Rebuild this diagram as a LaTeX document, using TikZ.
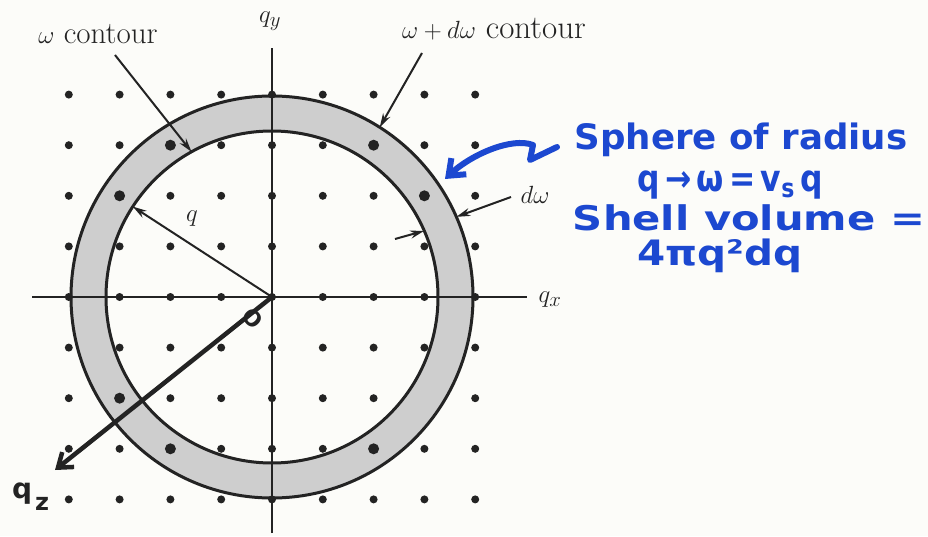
\documentclass[tikz,border=0pt]{standalone}
\usepackage{fontspec}
\usepackage{graphicx}
\newfontfamily\handfont{DejaVu Sans}
\usetikzlibrary{arrows.meta,calc}
\definecolor{ink}{RGB}{35,35,35}
\definecolor{pen}{RGB}{28,72,208}
\definecolor{paper}{RGB}{252,252,249}
\definecolor{shellgray}{RGB}{206,206,206}
\begin{document}
\begin{tikzpicture}[x=1pt,y=1pt,
  dot/.style={circle,fill=ink,inner sep=0pt,minimum size=8pt},
  bigdot/.style={dot,minimum size=11pt},
  lbl/.style={inner sep=1pt,text=ink,font=\fontsize{31}{33}\selectfont},
  ptr/.style={draw=ink,line width=2pt,-{Stealth[length=14pt,width=8pt]}},
  hand/.style={text=pen,inner sep=0pt},
  handdark/.style={text=ink,inner sep=0pt,font=\handfont\bfseries\fontsize{28}{28}\selectfont},
  ring/.style={draw=ink,line width=3pt},
  axis/.style={draw=ink,line width=2.3pt}]
\fill[paper] (0,0) rectangle (928,536);
\useasboundingbox (0,0) rectangle (928,536);
\coordinate (O) at (272,239);
% shell
\fill[shellgray,even odd rule] (O) circle[radius=201] (O) circle[radius=166];
\draw[ring] (O) circle[radius=201];
\draw[ring] (O) circle[radius=166];
% axes
\coordinate (xl) at (32,239);
\coordinate (xr) at (527,239);
\coordinate (yt) at (272,488);
\coordinate (yb) at (272,3);
\draw[axis] (xl) -- (xr);
\draw[axis] (yb) -- (yt);
% lattice dots
\foreach \i in {-4,...,4}{
  \foreach \j in {-4,...,4}{
    \pgfmathtruncatemacro{\rr}{\i*\i+\j*\j}
    \pgfmathtruncatemacro{\skp}{and(\i==3,\j==-2)}
    \ifnum\skp=0
      \ifnum\rr=13
        \node[bigdot] (d\i\j) at (272+50.8*\i,239+50.6*\j) {};
      \else
        \node[dot] (d\i\j) at (272+50.8*\i,239+50.6*\j) {};
      \fi
    \fi
  }
}
% axis labels
\node[lbl] (qy) at (270,515) {$q_y$};
\node[lbl] (qx) at (550,236) {$q_x$};
% contour labels
\node[lbl] (wc) at (98,502) {$\omega$ contour};
\node[lbl,font=\fontsize{33}{35}\selectfont] (wdc) at (494,507) {$\omega + d\omega$ contour};
\coordinate (wcs) at (115,481);
\coordinate (wct) at ($(O)+(119:166)$);
\draw[ptr] (wcs) -- (wct);
\coordinate (wds) at (422,483);
\coordinate (wdt) at ($(O)+(57.6:201)$);
\draw[ptr] (wds) -- (wdt);
% radius q
\coordinate (qt) at ($(O)+(147:166)$);
\draw[ptr] (O) -- (qt);
\node[lbl] (ql) at (192,317) {$q$};
% d omega
\node[lbl] (dw) at (535,341) {$d\omega$};
\coordinate (dws) at (511,339);
\coordinate (dwt) at ($(O)+(23.5:201)$);
\draw[ptr] (dws) -- (dwt);
\coordinate (dis) at (395,297);
\coordinate (dit) at ($(O)+(23.5:166)$);
\draw[ptr] (dis) -- (dit);
% q_z axis (handwritten)
\coordinate (qz) at (55,66);
\draw[ink,line width=4.5pt,line cap=round,-{Straight Barb[length=13pt,width=19pt]}] (O) -- (qz);
\node[handdark,anchor=west] (qzl) at (12,39) {q\kern3pt\raisebox{-12pt}{\fontsize{24}{24}\selectfont z}};
\node[text=ink,rotate=-45,inner sep=0pt,font=\handfont\bfseries\fontsize{22}{22}\selectfont] (ol) at (253,218) {O};
% blue handwritten notes
\node[hand] (s1) at (741,396) {\resizebox{333pt}{\height}{\handfont\bfseries\fontsize{35}{36}\selectfont Sphere of radius}};
\node[hand] (s2) at (730,351) {\resizebox{185pt}{\height}{\handfont\bfseries\fontsize{37}{38}\selectfont q\,→\,ω\,=\,v\textsubscript{s}\,q}};
\node[hand] (s3) at (749,318) {\resizebox{352pt}{\height}{\handfont\bfseries\fontsize{34}{36}\selectfont Shell volume =}};
\node[hand] (s4) at (720,280) {\resizebox{165pt}{\height}{\handfont\bfseries\fontsize{35}{36}\selectfont 4πq²dq}};
\coordinate (sq0) at (557,389);
\coordinate (sq1) at (530,376);
\coordinate (sq2) at (533,391);
\coordinate (sqt) at (445,357);
\draw[pen,line width=6pt,line cap=round,line join=round,-{Straight Barb[length=14pt,width=22pt]}]
  (sq0) -- (sq1) -- (sq2) .. controls (512,399) and (472,382) .. (sqt);
\end{tikzpicture}
\end{document}
